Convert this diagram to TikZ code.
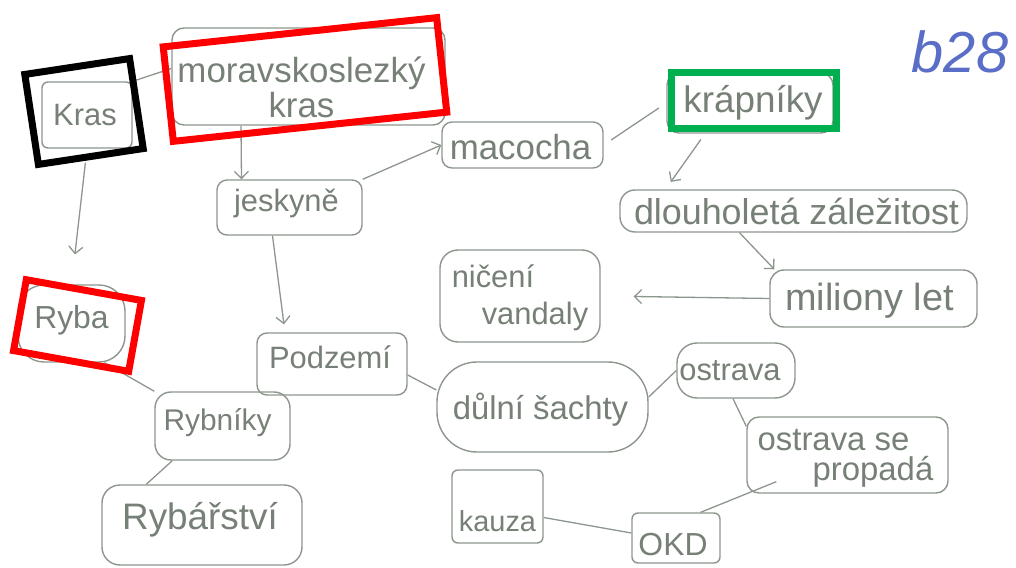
\documentclass[tikz,border=0pt]{standalone}
\usepackage{fontspec}
\setmainfont{Liberation Sans}
\usetikzlibrary{arrows.meta}
\definecolor{pencil}{RGB}{140,150,140}
\definecolor{pencilink}{RGB}{118,128,118}
\definecolor{markred}{RGB}{255,0,0}
\definecolor{markgreen}{RGB}{0,176,80}
\definecolor{inkblue}{RGB}{90,110,200}
\newcommand\handsize[2]{\fontsize{#1}{#2}\selectfont}
\begin{document}
\begin{tikzpicture}[x=1bp,y=-1bp,
  card/.style={draw=pencil, line width=1.4bp, rounded corners=#1, inner sep=0pt},
  card/.default=10bp,
  txt/.style={text=pencilink, inner sep=0pt},
  link/.style={draw=pencil, line width=1.3bp},
  arr/.style={link, -{Straight Barb[length=7bp,width=14bp,line width=1.3bp]}},
  hilite/.style={draw=#1, line width=7bp, inner sep=0pt}]
\useasboundingbox (0,0) rectangle (1016,568);

% concept boxes
\node[card=6bp, minimum width=90bp, minimum height=66bp,
  label={[txt, xshift=-2bp, font=\handsize{31}{33}]center:Kras}] (kras) at (87,115) {};
\node[card=12bp, minimum width=273bp, minimum height=97bp,
  label={[txt, align=center, xshift=-7bp, yshift=-11bp, font=\handsize{35}{35}]center:moravskoslezký\\kras}] (msk) at (308.5,76.5) {};
\node[card=10bp, minimum width=145bp, minimum height=55bp,
  label={[txt, xshift=-3bp, yshift=4bp, font=\handsize{31}{33}]center:jeskyně}] (jeskyne) at (289.5,207.5) {};
\node[card=10bp, minimum width=161bp, minimum height=46bp,
  label={[txt, xshift=-2bp, yshift=-2bp, font=\handsize{35}{37}]center:macocha}] (macocha) at (522.5,145) {};
\node[card=12bp, minimum width=166bp, minimum height=60bp,
  label={[txt, xshift=3bp, font=\handsize{37}{39}]center:krápníky}] (krapniky) at (750,103) {};
\node[card=15bp, minimum width=347bp, minimum height=42bp,
  label={[txt, xshift=3bp, font=\handsize{36}{38}]center:dlouholetá záležitost}] (dlouho) at (793.5,211) {};
\node[card=14bp, minimum width=207bp, minimum height=57bp,
  label={[txt, xshift=-4bp, yshift=-2bp, font=\handsize{38}{40}]center:miliony let}] (miliony) at (873.5,298.5) {};
\node[card=18bp, minimum width=160bp, minimum height=92bp,
  label={[txt, align=left, yshift=-2bp, font=\handsize{31}{37}]center:ničení\\\hspace*{30bp}vandaly}] (niceni) at (520,296) {};
\node[card=26bp, minimum width=107bp, minimum height=77bp,
  label={[txt, yshift=3bp, font=\handsize{32}{34}]center:Ryba}] (ryba) at (71.5,323.5) {};
\node[card=10bp, minimum width=150bp, minimum height=62bp,
  label={[txt, xshift=-2bp, yshift=7bp, font=\handsize{31}{33}]center:Podzemí}] (podzemi) at (332,364) {};
\node[card=40bp, minimum width=211bp, minimum height=90bp,
  label={[txt, xshift=-2bp, yshift=-3bp, font=\handsize{33}{35}]center:důlní šachty}] (dulni) at (542.5,407) {};
\node[card=20bp, minimum width=118bp, minimum height=55bp,
  label={[txt, xshift=-6bp, font=\handsize{31}{33}]center:ostrava}] (ostrava) at (736,370.5) {};
\node[card=12bp, minimum width=201bp, minimum height=76bp,
  label={[txt, align=left, xshift=-2bp, yshift=-3bp, font=\handsize{33}{30}]center:ostrava se\\\hspace*{55bp}propadá}] (propada) at (847.5,455) {};
\node[card=16bp, minimum width=135bp, minimum height=68bp,
  label={[txt, xshift=-5bp, yshift=3bp, font=\handsize{30}{32}]center:Rybníky}] (rybniky) at (222.5,426) {};
\node[card=18bp, minimum width=200bp, minimum height=80bp,
  label={[txt, xshift=-2bp, yshift=5bp, font=\handsize{37}{39}]center:Rybářství}] (rybarstvi) at (202,525) {};
\node[card=6bp, minimum width=91bp, minimum height=73bp,
  label={[txt, yshift=-15bp, font=\handsize{29}{31}]center:kauza}] (kauza) at (497.5,506.5) {};
\node[card=6bp, minimum width=88bp, minimum height=50bp,
  label={[txt, xshift=-3bp, yshift=-7bp, font=\handsize{32}{34}]center:OKD}] (okd) at (676,538) {};

% connectors
\draw[link] (kras.north east) -- ([yshift=8bp]msk.west);
\draw[arr, shorten <=14bp, shorten >=30bp] (kras.south) -- (ryba.north);
\draw[arr] ([xshift=-67.5bp]msk.south) -- ([xshift=-48bp]jeskyne.north);
\draw[arr] (jeskyne.north east) -- (macocha.west);
\draw[arr, shorten >=8bp] ([xshift=-17bp]jeskyne.south) -- ([xshift=-47bp]podzemi.north);
\draw[link, shorten <=9bp, shorten >=9bp] (macocha.east) -- (krapniky.west);
\draw[arr, shorten <=7bp, shorten >=9bp] ([xshift=-45bp]krapniky.south) -- ([xshift=-128bp]dlouho.north);
\draw[arr] ([xshift=-54bp]dlouho.south) -- ([xshift=5bp]miliony.north west);
\draw[arr, shorten >=33bp] (miliony.west) -- (niceni.east);
\draw[link] (ryba.-50) -- (rybniky.north west);
\draw[link] ([xshift=18bp]rybniky.south west) -- ([xshift=45bp]rybarstvi.north west);
\draw[link] ([yshift=-11bp]podzemi.east) -- ([yshift=17bp]dulni.west);
\draw[link] ([yshift=10bp]dulni.east) -- (ostrava.west);
\draw[link] ([xshift=-3bp]ostrava.south) -- ([yshift=-10bp]propada.north west);
\draw[link] ([xshift=30bp,yshift=12bp]propada.south west) -- ([xshift=-20bp]okd.north east);
\draw[link] ([yshift=-11bp]kauza.east) -- ([yshift=5bp]okd.west);

% page mark in blue ink
\node[text=inkblue, inner sep=0pt, font=\handsize{58}{60}\itshape] (sheet) at (960,52) {b28};

% highlight frames
\node[hilite=black, minimum width=106bp, minimum height=91bp, rotate=8.6] (krasframe) at (84,111.5) {};
\node[hilite=markred, minimum width=275bp, minimum height=95bp, rotate=6.1] (mskframe) at (305,79.5) {};
\node[hilite=markred, minimum width=117bp, minimum height=72bp, rotate=-10.2] (rybaframe) at (77.5,325.5) {};
\node[hilite=markgreen, minimum width=165bp, minimum height=56bp] (krapnikyframe) at (754,100.5) {};
\end{tikzpicture}
\end{document}
